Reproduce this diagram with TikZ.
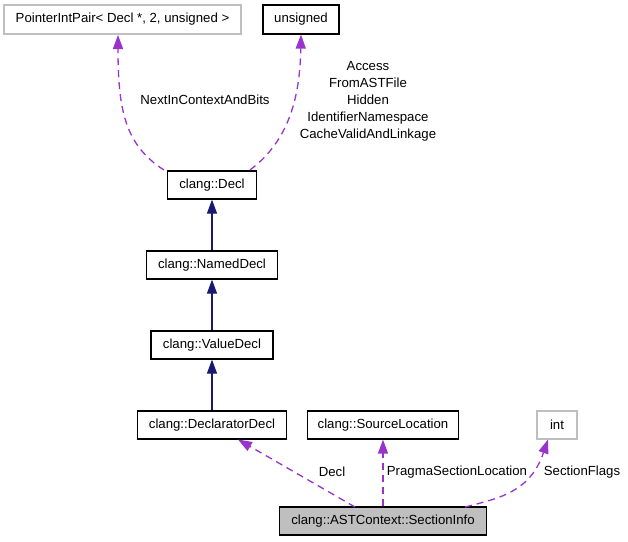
\documentclass[tikz,border=0pt]{standalone}
\usepackage{fontspec}
\setmainfont{Liberation Sans}
\usetikzlibrary{arrows.meta}
\definecolor{edgepurple}{HTML}{9A32CD}
\definecolor{navy}{HTML}{191970}
\definecolor{graybd}{HTML}{BFBFBF}
\tikzset{
  box/.style={draw=black, line width=1.2pt, fill=white, inner sep=0pt, font=\fontsize{13.2}{15.8}\selectfont},
  gbox/.style={box, draw=graybd},
  inh/.style={draw=navy, line width=1.2pt, -{Triangle[length=14pt,width=10pt]}},
  use/.style={draw=edgepurple, line width=1.3pt, dash pattern=on 7pt off 5pt, -{Triangle[length=14pt,width=10pt]}},
  lbl/.style={font=\fontsize{13.2}{17}\selectfont, inner sep=0pt, align=center}
}
\begin{document}
\begin{tikzpicture}[x=1pt,y=-1pt]
\useasboundingbox (0,0) rectangle (628,541);
\node[gbox, minimum width=237pt, minimum height=29pt] (pip) at (122.5,19.5) {PointerIntPair< Decl *, 2, unsigned >};
\node[box, minimum width=76pt, minimum height=29pt] (uns) at (301,19.5) {unsigned};
\node[box, minimum width=89pt, minimum height=28pt] (decl) at (212,185) {clang::Decl};
\node[box, minimum width=131pt, minimum height=28pt] (named) at (212,265) {clang::NamedDecl};
\node[box, minimum width=122pt, minimum height=28pt] (value) at (212,345) {clang::ValueDecl};
\node[box, minimum width=149pt, minimum height=28pt] (declr) at (212,425) {clang::DeclaratorDecl};
\node[box, minimum width=151pt, minimum height=28pt] (src) at (383,425) {clang::SourceLocation};
\node[gbox, minimum width=40pt, minimum height=28pt] (int) at (557,425) {int};
\node[box, fill=graybd, minimum width=207pt, minimum height=28pt] (si) at (383,521) {clang::ASTContext::SectionInfo};

\coordinate (d1) at (164,170);
\coordinate (d2) at (250,170);
\draw[use] (d1) .. controls (125,145) and (118,110) .. (118,35) coordinate (pipin);
\draw[use] (d2) .. controls (290,140) and (300,95) .. (uns.south);
\node[lbl] (l1) at (205,100) {NextInContextAndBits};
\node[lbl] (l2) at (368,101) {Access\\FromASTFile\\Hidden\\IdentifierNamespace\\CacheValidAndLinkage};

\draw[inh] (named.north) -- (decl.south);
\draw[inh] (value.north) -- (named.south);
\draw[inh] (declr.north) -- (value.south);

\coordinate (s1) at (355,507);
\coordinate (s3) at (465,507);
\draw[use] (s1) -- (238,439.5);
\draw[use] (si.north) -- (src.south);
\draw[use] (s3) .. controls (500,498) and (530,492) .. (548,439.5);
\node[lbl] (l3) at (332,472) {Decl};
\node[lbl] (l4) at (457,472) {PragmaSectionLocation};
\node[lbl] (l5) at (582,472) {SectionFlags};
\end{tikzpicture}
\end{document}
